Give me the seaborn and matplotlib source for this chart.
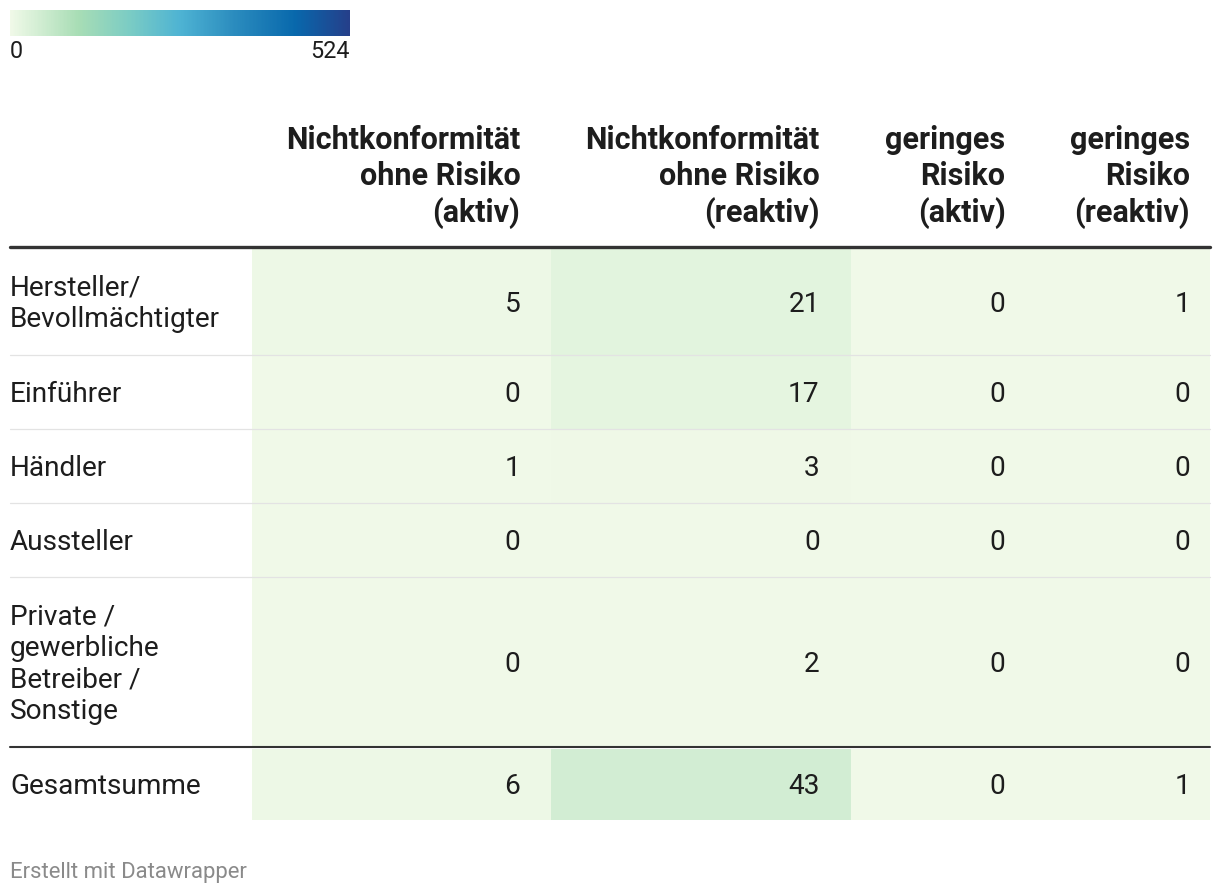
import numpy as np
import matplotlib
matplotlib.use("Agg")
import matplotlib.pyplot as plt
from matplotlib.colors import LinearSegmentedColormap
from matplotlib.lines import Line2D
import seaborn as sns

sns.set_theme(style="white")
plt.rcParams["font.family"] = ["Roboto", "DejaVu Sans"]

# ── data ──────────────────────────────────────────────────────────────────────
columns = ["Nichtkonformität\nohne Risiko\n(aktiv)",
           "Nichtkonformität\nohne Risiko\n(reaktiv)",
           "geringes\nRisiko\n(aktiv)",
           "geringes\nRisiko\n(reaktiv)"]
rows = ["Hersteller/\nBevollmächtigter", "Einführer", "Händler", "Aussteller",
        "Private /\ngewerbliche\nBetreiber /\nSonstige"]
values = [[5, 21, 0, 1],
          [0, 17, 0, 0],
          [1, 3, 0, 0],
          [0, 0, 0, 0],
          [0, 2, 0, 0]]
total_label = "Gesamtsumme"
totals = [6, 43, 0, 1]
scale_min, scale_max = 0, 524
footer = "Erstellt mit Datawrapper"

# ── layout (pixels) ───────────────────────────────────────────────────────────
W, H = 1220, 896
fig = plt.figure(figsize=(W / 100, H / 100), dpi=100)

def fx(x):
    return x / W

def fy(y):
    return 1 - y / H

col_units = [5, 5, 3, 3]          # relative column widths
col_pad = [31, 31, 25, 20]        # right padding of numbers (px)
x0, x1 = 252, 1210
row_edges = [(249, 355), (355, 429), (429, 503), (503, 577), (577, 747), (749, 820)]
px_unit = (x1 - x0) / sum(col_units)
edges = np.cumsum(col_units)

TXT = "#1d1d1d"
FS = 20.2
FS_HEAD = 22

cmap = LinearSegmentedColormap.from_list(
    "dw", [(0.0, "#f0f9e8"), (0.2, "#a8ddb5"), (0.35, "#7bccc4"),
           (0.5, "#4eb3d3"), (0.66, "#2b8cbe"), (0.84, "#0868ac"),
           (1.0, "#253f8a")])

cax = fig.add_axes([fx(10), fy(36), fx(350) - fx(10), 26 / H])

all_labels = rows + [total_label]
all_vals = values + [totals]

for i, (lab, vals) in enumerate(zip(all_labels, all_vals)):
    top, bot = row_edges[i]
    ax = fig.add_axes([fx(x0), fy(bot), fx(x1) - fx(x0), (bot - top) / H])
    data = np.repeat(np.array([vals], dtype=float), col_units, axis=1)
    sns.heatmap(data, ax=ax, cmap=cmap, vmin=scale_min, vmax=scale_max,
                cbar=(i == 0), cbar_ax=cax if i == 0 else None,
                cbar_kws={"orientation": "horizontal"},
                xticklabels=False, yticklabels=False)
    ax.tick_params(left=False, bottom=False)
    mid = 0.5 + 2 / (bot - top)   # nudge text 2px down
    for j, v in enumerate(vals):
        ax.text(edges[j] - col_pad[j] / px_unit, mid, str(v), ha="right",
                va="center", fontsize=FS, color=TXT)
    fig.text(fx(10), fy((top + bot) / 2 + 2), lab, ha="left", va="center",
             fontsize=FS, color=TXT, linespacing=1.22)

# colour scale legend
cax.set_xticks([])
cax.set_yticks([])
for s in cax.spines.values():
    s.set_visible(False)
fig.text(fx(10), fy(51), str(scale_min), ha="left", va="center", fontsize=16.8, color=TXT)
fig.text(fx(350), fy(51), str(scale_max), ha="right", va="center", fontsize=16.8, color=TXT)

# header
for j, col in enumerate(columns):
    xr = x0 + edges[j] * px_unit - col_pad[j]
    fig.text(fx(xr), fy(229), col, ha="right", va="bottom", fontsize=FS_HEAD,
             fontweight="bold", color=TXT, linespacing=1.24)

# rules
fig.add_artist(Line2D([fx(10), fx(1210)], [fy(247), fy(247)], color="#333333", lw=2.4))
for y in [355, 429, 503, 577]:
    fig.add_artist(Line2D([fx(10), fx(1210)], [fy(y), fy(y)], color="#e3e3e3", lw=0.9))
fig.add_artist(Line2D([fx(10), fx(1210)], [fy(747), fy(747)], color="#333333", lw=1.5))

fig.text(fx(10), fy(872), footer, ha="left", va="center", fontsize=15.9, color="#8a8a8a")

fig.savefig("out.png", dpi=100)
